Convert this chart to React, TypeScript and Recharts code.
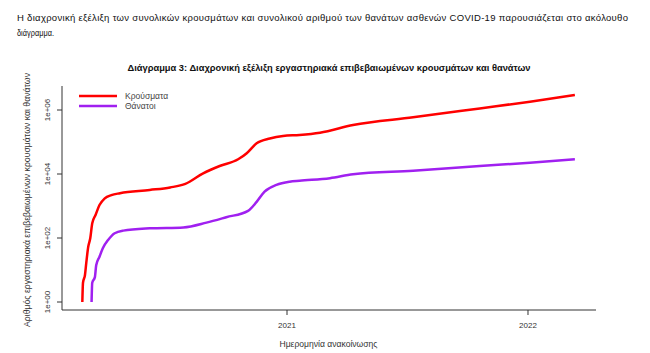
import React from "react";
import { LineChart, Line, XAxis, YAxis, Legend } from "recharts";

const casesDates = [
  "2020-02-26", "2020-02-27", "2020-03-01", "2020-03-03", "2020-03-06", "2020-03-09",
  "2020-03-12", "2020-03-17", "2020-03-23", "2020-03-31", "2020-04-10", "2020-04-23",
  "2020-06-07", "2020-07-08", "2020-07-31", "2020-08-27", "2020-09-21", "2020-10-19",
  "2020-11-01", "2020-11-16", "2020-12-06", "2020-12-26", "2021-01-20", "2021-02-20",
  "2021-04-11", "2021-07-11", "2021-10-20", "2022-01-04", "2022-03-13",
];
const casesValues = [
  1, 4, 7, 17, 54, 98,
  288, 525, 1070, 1740, 2190, 2510,
  3160, 3800, 4900, 10500, 17800, 28800,
  44700, 91200, 129000, 155000, 166000, 195000,
  339000, 589000, 1120000, 1820000, 2950000,
];

const deathsDates = [
  "2020-03-11", "2020-03-12", "2020-03-16", "2020-03-18", "2020-03-23", "2020-03-28",
  "2020-04-05", "2020-04-15", "2020-04-28", "2020-06-07", "2020-07-28", "2020-09-01",
  "2020-10-01", "2020-11-03", "2020-11-16", "2020-11-28", "2020-12-16", "2021-01-05",
  "2021-01-20", "2021-03-07", "2021-04-11", "2021-07-11", "2021-10-20", "2022-01-04",
  "2022-03-13",
];
const deathsValues = [
  1, 4, 6, 14, 26, 48,
  87, 141, 170, 200, 214, 302,
  447, 708, 1350, 2820, 4570, 5750,
  6170, 7410, 9770, 12600, 17800, 22400,
  28800,
];

const seriesNames = ["Κρούσματα", "Θάνατοι"];
const seriesColors = ["#ff0000", "#a020f0"];
const yTicks = [1, 100, 10000, 1000000];
const yTickLabels = ["1e+00", "1e+02", "1e+04", "1e+06"];
const xTickDates = ["2021-01-01", "2022-01-01"];
const xTickLabels = ["2021", "2022"];

const headerLine1 =
  "Η διαχρονική εξέλιξη των συνολικών κρουσμάτων και συνολικού αριθμού των θανάτων ασθενών COVID-19 παρουσιάζεται στο ακόλουθο";
const headerLine2 = "διάγραμμα.";
const title =
  "Διάγραμμα 3: Διαχρονική εξέλιξη εργαστηριακά επιβεβαιωμένων κρουσμάτων και θανάτων";
const yLabel = "Αριθμός εργαστηριακά επιβεβαιωμένων κρουσμάτων και θανάτων";
const xLabel = "Ημερομηνία ανακοίνωσης";

const DAY = 86400000;
const toT = (s: string) => Date.parse(s + "T00:00:00Z");

const casesData = casesDates.map((d, i) => ({ t: toT(d), v: casesValues[i] }));
const deathsData = deathsDates.map((d, i) => ({ t: toT(d), v: deathsValues[i] }));
const xTicks = xTickDates.map(toT);
const base = toT("2021-01-01");
const xDomain = [base - 340.8 * DAY, base + 468 * DAY];
const yDomain = [Math.pow(10, -0.25), Math.pow(10, 6.75)];

const FONT = "'Liberation Sans', 'DejaVu Sans', sans-serif";

const YTick = (props: any) => {
  const { y, payload } = props;
  const idx = yTicks.indexOf(payload.value);
  const label = idx >= 0 ? yTickLabels[idx] : String(payload.value);
  return (
    <text
      x={47}
      y={y}
      transform={`rotate(-90 47 ${y})`}
      textAnchor="middle"
      dominantBaseline="central"
      fontSize={8}
      fill="#333"
      fontFamily={FONT}
    >
      {label}
    </text>
  );
};

const XTick = (props: any) => {
  const { x, payload } = props;
  const idx = xTicks.indexOf(payload.value);
  const label = idx >= 0 ? xTickLabels[idx] : "";
  return (
    <text
      x={x}
      y={325}
      textAnchor="middle"
      dominantBaseline="central"
      fontSize={8}
      fill="#333"
      fontFamily={FONT}
    >
      {label}
    </text>
  );
};

const LegendContent = () => (
  <svg width={100} height={24} style={{ display: "block" }}>
    {seriesNames.map((n, i) => (
      <g key={n}>
        <line x1={0} x2={38} y1={4 + i * 10} y2={4 + i * 10} stroke={seriesColors[i]} strokeWidth={2.5} />
        <text x={46} y={4 + i * 10} dominantBaseline="central" fontSize={8.5} fill="#444" fontFamily={FONT}>
          {n}
        </text>
      </g>
    ))}
  </svg>
);

export default function App() {
  return (
    <div style={{ position: "absolute", left: 0, top: 0, width: 650, height: 353, background: "#fff" }}>
      <svg
        width={650}
        height={353}
        style={{ position: "absolute", left: 0, top: 0, pointerEvents: "none" }}
      >
        <text x={17} y={21} fontSize={9.5} fill="#111" fontFamily={FONT} textLength={611} lengthAdjust="spacing">
          {headerLine1}
        </text>
        <text x={17} y={36} fontSize={9.5} fill="#111" fontFamily={FONT} textLength={37} lengthAdjust="spacingAndGlyphs">
          {headerLine2}
        </text>
        <text
          x={329}
          y={70.5}
          textAnchor="middle"
          fontSize={9.5}
          fontWeight="bold"
          fill="#111"
          fontFamily={FONT}
          textLength={403}
          lengthAdjust="spacingAndGlyphs"
        >
          {title}
        </text>
        <text
          x={27}
          y={200}
          transform="rotate(-90 27 200)"
          textAnchor="middle"
          dominantBaseline="central"
          fontSize={8.5}
          fill="#333"
          fontFamily={FONT}
          textLength={254}
          lengthAdjust="spacingAndGlyphs"
        >
          {yLabel}
        </text>
        <text
          x={328.5}
          y={344}
          textAnchor="middle"
          dominantBaseline="central"
          fontSize={8.5}
          fill="#333"
          fontFamily={FONT}
          textLength={98}
          lengthAdjust="spacingAndGlyphs"
        >
          {xLabel}
        </text>
      </svg>
      <div style={{ position: "absolute", left: 0, top: 0 }}>
        <LineChart
          width={650}
          height={353}
          margin={{ top: 86, right: 54, bottom: 13, left: 32 }}
        >
          <XAxis
            dataKey="t"
            type="number"
            domain={xDomain}
            allowDataOverflow
            ticks={xTicks}
            tick={<XTick />}
            tickSize={5}
            height={30}
            stroke="#333"
            tickLine={{ stroke: "#333" }}
            interval={0}
          />
          <YAxis
            dataKey="v"
            type="number"
            scale="log"
            domain={yDomain}
            allowDataOverflow
            ticks={yTicks}
            tick={<YTick />}
            tickSize={5}
            width={30}
            stroke="#333"
            interval={0}
          />
          <Legend
            content={<LegendContent />}
            layout="vertical"
            align="center"
            verticalAlign="middle"
            wrapperStyle={{ position: "absolute", left: 79, top: 92, width: 100, height: 24 }}
          />
          <Line
            data={casesData}
            dataKey="v"
            name={seriesNames[0]}
            stroke={seriesColors[0]}
            strokeWidth={2.5}
            dot={false}
            type="monotoneX"
            isAnimationActive={false}
          />
          <Line
            data={deathsData}
            dataKey="v"
            name={seriesNames[1]}
            stroke={seriesColors[1]}
            strokeWidth={2.5}
            dot={false}
            type="monotoneX"
            isAnimationActive={false}
          />
        </LineChart>
      </div>
    </div>
  );
}
